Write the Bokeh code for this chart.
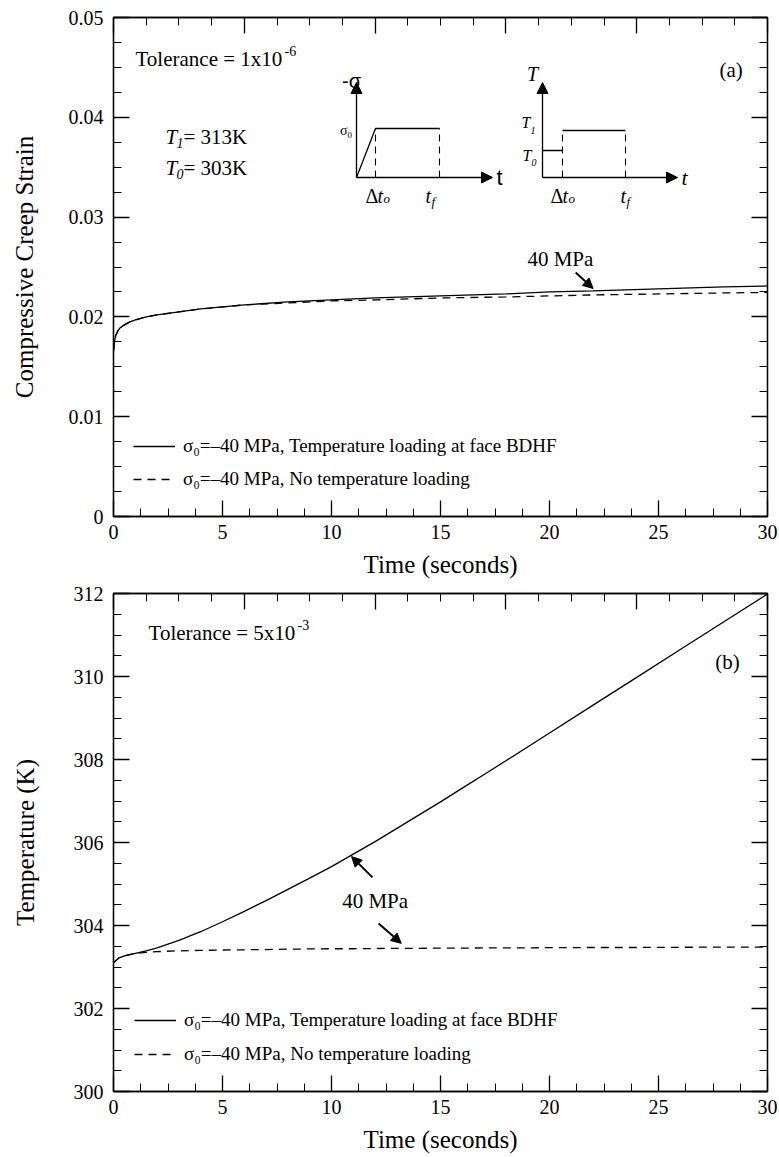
import numpy as np
from bokeh.plotting import figure
from bokeh.models import (Range1d, LinearAxis, FixedTicker, Label, Arrow, NormalHead,
                          Legend, LegendItem, CustomJSTickFormatter)
from bokeh.core.properties import value
from bokeh.layouts import column
from bokeh.embed import file_html
from bokeh.resources import INLINE

# ---------------- data ----------------
time_a = [0, 0.05, 0.1, 0.2, 0.3, 0.5, 0.75, 1, 1.5, 2, 3, 4, 5, 6, 8, 10, 12, 15, 18, 20, 22, 25, 28, 30]
strain_temp_load = [0.0166, 0.0176, 0.0181, 0.0186, 0.0189, 0.0192, 0.0195, 0.0197, 0.0200, 0.0202,
                    0.0205, 0.0208, 0.0210, 0.0212, 0.0215, 0.0217, 0.0219, 0.0221, 0.0223, 0.0225,
                    0.0226, 0.0228, 0.0230, 0.0231]
strain_no_temp = [0.0166, 0.0176, 0.0181, 0.0186, 0.0189, 0.0192, 0.0195, 0.0197, 0.0200, 0.0202,
                  0.0205, 0.0208, 0.0210, 0.0212, 0.0214, 0.0216, 0.0217, 0.0219, 0.0220, 0.0221,
                  0.0222, 0.0223, 0.0224, 0.02245]

time_b = [0, 0.25, 0.5, 1, 1.5, 2, 3, 4, 5, 6, 7, 8, 9, 10, 11, 12, 13, 14, 15, 16, 17, 18,
          20, 22, 24, 26, 28, 30]
temp_temp_load = [303.10, 303.22, 303.27, 303.33, 303.39, 303.46, 303.64, 303.85, 304.09, 304.34,
                  304.60, 304.87, 305.14, 305.42, 305.72, 306.02, 306.34, 306.66, 306.98, 307.31,
                  307.64, 307.97, 308.64, 309.31, 309.98, 310.65, 311.32, 311.99]
temp_no_temp = [303.10, 303.22, 303.27, 303.33, 303.35, 303.37, 303.39, 303.40, 303.41, 303.415,
                303.42, 303.43, 303.435, 303.44, 303.44, 303.445, 303.45, 303.45, 303.455, 303.455,
                303.46, 303.46, 303.465, 303.47, 303.47, 303.475, 303.48, 303.48]

x_ticks = [0, 5, 10, 15, 20, 25, 30]
y_ticks_a = [0, 0.01, 0.02, 0.03, 0.04, 0.05]
y_tick_labels_a = ["0", "0.01", "0.02", "0.03", "0.04", "0.05"]
y_ticks_b = [300, 302, 304, 306, 308, 310, 312]
legend_labels = ["σ₀=–40 MPa, Temperature loading at face BDHF",
                 "σ₀=–40 MPa, No temperature loading"]

SERIF = "Liberation Serif"
SANS = "Liberation Sans"
FW = 654

# Label.text_font may be a plain string property or a font spec depending on version
try:
    Label(text_font=value(SERIF))
    def FONT(f):
        return value(f)
except Exception:
    def FONT(f):
        return f

BLANK = CustomJSTickFormatter(code="return ''")


def style_axis(ax, labels=True, fs="20px"):
    ax.axis_line_color = "black"
    ax.axis_line_width = 1.3
    ax.major_tick_line_color = "black"
    ax.minor_tick_line_color = "black"
    ax.major_tick_line_width = 1.3
    ax.minor_tick_line_width = 1.0
    ax.major_tick_in = 16
    ax.major_tick_out = 0
    ax.minor_tick_in = 8
    ax.minor_tick_out = 0
    ax.major_label_text_font = SERIF
    ax.major_label_text_color = "black"
    ax.axis_label_text_font = SERIF
    ax.axis_label_text_font_style = "normal"
    ax.axis_label_text_font_size = "25px"
    ax.axis_label_text_color = "black"
    if labels:
        ax.major_label_text_font_size = fs
        ax.major_label_standoff = 8
    else:
        ax.formatter = BLANK
        ax.major_label_text_font_size = "1px"
        ax.major_label_standoff = 0


def make_panel(yr, yticks, yminor, ylabel, top, bottom, fh, ystand, xstand, overrides=None):
    p = figure(frame_width=FW, frame_height=fh, x_range=Range1d(0, 30), y_range=Range1d(*yr),
               output_backend="svg", toolbar_location=None, x_axis_type=None, y_axis_type=None,
               min_border_left=113, min_border_right=12, min_border_top=top, min_border_bottom=bottom)
    p.outline_line_color = "black"
    p.outline_line_width = 1.3
    xt = FixedTicker(ticks=x_ticks, minor_ticks=list(np.arange(0, 30.01, 1.25)))
    yt = FixedTicker(ticks=yticks, minor_ticks=yminor)
    bx = LinearAxis(ticker=xt, axis_label="Time (seconds)")
    style_axis(bx)
    bx.axis_label_standoff = xstand
    ly = LinearAxis(ticker=yt, axis_label=ylabel)
    style_axis(ly)
    ly.major_label_standoff = 10
    ly.axis_label_standoff = ystand
    if overrides:
        ly.major_label_overrides = overrides
    tx = LinearAxis(ticker=FixedTicker(ticks=list(np.arange(0, 30.01, 6)),
                                       minor_ticks=list(np.arange(0, 30.01, 1.5))))
    style_axis(tx, labels=False)
    ry = LinearAxis(ticker=FixedTicker(ticks=yticks, minor_ticks=yminor))
    style_axis(ry, labels=False)
    p.add_layout(bx, "below")
    p.add_layout(ly, "left")
    p.add_layout(tx, "above")
    p.add_layout(ry, "right")
    return p


def lab(p, x, y, text, size, dx=0, dy=0, align="left", baseline="middle", font=SERIF, style="normal"):
    p.add_layout(Label(x=x, y=y, x_offset=dx, y_offset=dy, text=text, text_font=FONT(font),
                       text_font_size=f"{size}px", text_font_style=style, text_align=align,
                       text_baseline=baseline, text_color="black"))


def arrow(p, x0, y0, x1, y1, size=10, width=2.0):
    p.add_layout(Arrow(x_start=x0, y_start=y0, x_end=x1, y_end=y1, line_width=width, line_color="black",
                       end=NormalHead(size=size, fill_color="black", line_color="black", line_width=1)))


def add_legend(p, r1, r2, loc, spacing):
    leg = Legend(items=[LegendItem(label=legend_labels[0], renderers=[r1]),
                        LegendItem(label=legend_labels[1], renderers=[r2])],
                 location=loc, orientation="vertical", padding=0, margin=0, spacing=spacing,
                 glyph_width=42, glyph_height=20, label_height=20, label_standoff=8,
                 label_text_font=SERIF, label_text_font_size="19px", label_text_color="black",
                 border_line_color=None, background_fill_alpha=0)
    p.add_layout(leg)


# ---------------- panel (a) ----------------
pa = make_panel((0, 0.05), y_ticks_a, list(np.arange(0, 0.05001, 0.0025)), "Compressive Creep Strain",
                17, 67, 499, 28, 9, overrides=dict(zip(y_ticks_a, y_tick_labels_a)))
ra1 = pa.line(time_a, strain_temp_load, line_color="black", line_width=1.3)
ra2 = pa.line(time_a, strain_no_temp, line_color="black", line_width=1.3, line_dash="8 6")
add_legend(pa, ra1, ra2, (20, 26), 11)

DT = 30 / FW
DS = 0.05 / 499
S0 = (516 - 177) * DS


def ipt(ox, dx, dy):
    return ox + dx * DT, S0 + dy * DS


# left inset (stress schedule)
L0 = (356 - 113) * DT
ox, oy = ipt(L0, 0, 0)
arrow(pa, ox, oy, *ipt(L0, 0, 95), size=11, width=1.3)
arrow(pa, ox, oy, *ipt(L0, 136, 0), size=11, width=1.3)
xs, ys = zip(ipt(L0, 0, 0), ipt(L0, 19, 49), ipt(L0, 83, 49))
pa.line(list(xs), list(ys), line_color="black", line_width=1.3)
for d in (19, 83):
    xs, ys = zip(ipt(L0, d, 0), ipt(L0, d, 49))
    pa.line(list(xs), list(ys), line_color="black", line_width=1.1, line_dash="7 5")
lab(pa, ox, oy, "-σ", 20, dx=-5, dy=97, align="center", baseline="alphabetic", font=SANS)
lab(pa, ox, oy, "σ", 14, dx=-9, dy=47, align="right")
lab(pa, ox, oy, "0", 9, dx=-9, dy=43)
lab(pa, ox, oy, "Δ", 20, dx=9, dy=-18)
lab(pa, ox, oy, "t", 20, dx=21, dy=-18, style="italic")
lab(pa, ox, oy, "o", 13, dx=27, dy=-21, style="italic")
lab(pa, ox, oy, "t", 20, dx=69, dy=-18, style="italic")
lab(pa, ox, oy, "f", 13, dx=75, dy=-24, style="italic")
lab(pa, ox, oy, "t", 22, dx=140, dy=0, font=SANS)

# right inset (temperature schedule)
R0 = (542 - 113) * DT
ox, oy = ipt(R0, 0, 0)
arrow(pa, ox, oy, *ipt(R0, 0, 95), size=11, width=1.3)
arrow(pa, ox, oy, *ipt(R0, 135, 0), size=11, width=1.3)
xs, ys = zip(ipt(R0, 0, 27), ipt(R0, 20, 27))
pa.line(list(xs), list(ys), line_color="black", line_width=1.3)
xs, ys = zip(ipt(R0, 20, 47), ipt(R0, 83, 47))
pa.line(list(xs), list(ys), line_color="black", line_width=1.3)
for d in (20, 83):
    xs, ys = zip(ipt(R0, d, 0), ipt(R0, d, 47))
    pa.line(list(xs), list(ys), line_color="black", line_width=1.1, line_dash="7 5")
lab(pa, ox, oy, "T", 20, dx=-10, dy=104, align="center", style="italic")
lab(pa, ox, oy, "T", 16, dx=-12, dy=55, align="right", style="italic")
lab(pa, ox, oy, "1", 10, dx=-12, dy=47, style="italic")
lab(pa, ox, oy, "T", 16, dx=-11, dy=22, align="right", style="italic")
lab(pa, ox, oy, "0", 10, dx=-11, dy=15, style="italic")
lab(pa, ox, oy, "Δ", 20, dx=8, dy=-18)
lab(pa, ox, oy, "t", 20, dx=20, dy=-18, style="italic")
lab(pa, ox, oy, "o", 13, dx=26, dy=-21, style="italic")
lab(pa, ox, oy, "t", 20, dx=78, dy=-18, style="italic")
lab(pa, ox, oy, "f", 13, dx=84, dy=-24, style="italic")
lab(pa, ox, oy, "t", 22, dx=139, dy=0, style="italic")

# texts of panel (a)
lab(pa, 1.009, 0.04589, "Tolerance = 1x10", 21)
lab(pa, 1.009, 0.04589, "-6", 14, dx=149, dy=8)
for yy, sub, val in ((0.03798, "1", "= 313K"), (0.03487, "0", "= 303K")):
    lab(pa, 2.385, yy, "T", 21, style="italic")
    lab(pa, 2.385, yy, sub, 14, dx=11, dy=-6, style="italic")
    lab(pa, 2.385, yy, val, 21, dx=18)
lab(pa, 28.33, 0.04469, "(a)", 21, align="center")
lab(pa, 20.5, 0.02585, "40 MPa", 21, align="center")
arrow(pa, 21.2, 0.02445, 22.0, 0.02285, size=10, width=2)

# ---------------- panel (b) ----------------
pb = make_panel((300, 312), y_ticks_b, list(np.arange(300, 312.01, 0.5)), "Temperature (K)",
                10, 66, 498, 32, 9)
rb1 = pb.line(time_b, temp_temp_load, line_color="black", line_width=1.3)
rb2 = pb.line(time_b, temp_no_temp, line_color="black", line_width=1.3, line_dash="8 6")
add_legend(pb, rb1, rb2, (21, 26), 12)

lab(pb, 1.608, 311.06, "Tolerance = 5x10", 21)
lab(pb, 1.608, 311.06, "-3", 14, dx=149, dy=8)
lab(pb, 28.16, 310.36, "(b)", 21, align="center")
lab(pb, 12.0, 304.6, "40 MPa", 21, align="center")
arrow(pb, 11.88, 305.16, 10.92, 305.66, size=10, width=2)
arrow(pb, 12.16, 304.05, 13.2, 303.57, size=10, width=2)

layout = column(pa, pb, spacing=0)
open("out.html", "w").write(file_html(layout, INLINE))
